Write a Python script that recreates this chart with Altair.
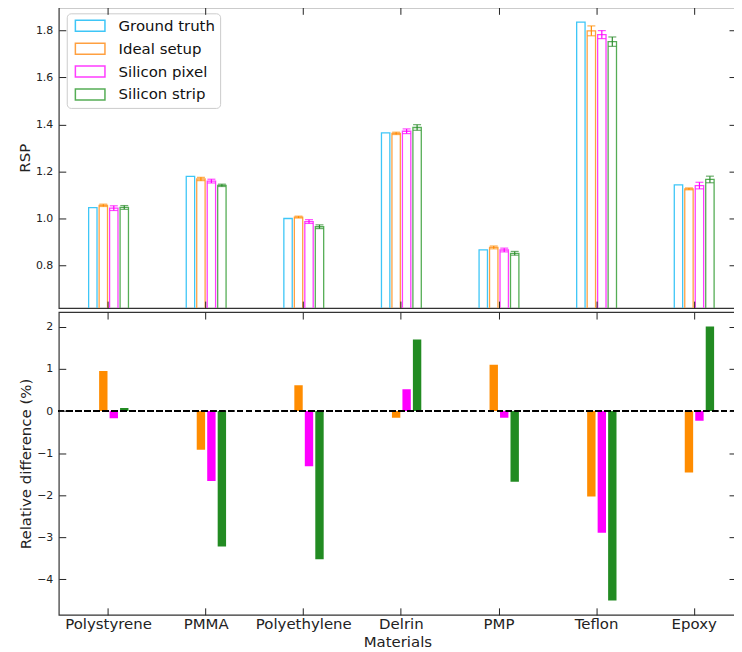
import altair as alt
import pandas as pd

materials = ["Polystyrene", "PMMA", "Polyethylene", "Delrin", "PMP", "Teflon", "Epoxy"]
series = ["Ground truth", "Ideal setup", "Silicon pixel", "Silicon strip"]

gt_rsp = [1.046, 1.179, 1.000, 1.364, 0.867, 1.835, 1.143]
ideal_rsp = [1.056, 1.168, 1.006, 1.362, 0.877, 1.798, 1.126]
pixel_rsp = [1.044, 1.159, 0.987, 1.371, 0.866, 1.782, 1.140]
strip_rsp = [1.047, 1.141, 0.965, 1.387, 0.852, 1.752, 1.166]
ideal_err = [0.005, 0.007, 0.004, 0.005, 0.006, 0.021, 0.004]
pixel_err = [0.010, 0.008, 0.008, 0.010, 0.008, 0.017, 0.014]
strip_err = [0.008, 0.005, 0.008, 0.012, 0.008, 0.020, 0.014]

rel_ideal = [0.95, -0.92, 0.61, -0.16, 1.10, -2.03, -1.46]
rel_pixel = [-0.17, -1.66, -1.31, 0.52, -0.16, -2.89, -0.23]
rel_strip = [0.07, -3.22, -3.52, 1.70, -1.68, -4.50, 2.01]

top_colors = ["#3ec6f7", "#ffa040", "#ff3dff", "#55ad55"]
err_colors = ["#ff8c00", "#ff00ff", "#2e8b2e"]
bot_colors = ["#ff8c00", "#ff00ff", "#228b22"]

FONT = "DejaVu Sans"
W = 680

rows = []
for i, m in enumerate(materials):
    for s, vals, errs in [(series[0], gt_rsp, None), (series[1], ideal_rsp, ideal_err),
                          (series[2], pixel_rsp, pixel_err), (series[3], strip_rsp, strip_err)]:
        e = errs[i] if errs is not None else 0.0
        rows.append({"Material": m, "Series": s, "RSP": vals[i],
                     "lo": vals[i] - e, "hi": vals[i] + e, "has_err": errs is not None})
top_df = pd.DataFrame(rows)
err_df = top_df[top_df["has_err"]].drop(columns=["has_err"])
top_df = top_df.drop(columns=["has_err"])

brows = []
for i, m in enumerate(materials):
    for s, vals in [(series[1], rel_ideal), (series[2], rel_pixel), (series[3], rel_strip)]:
        brows.append({"Material": m, "Series": s, "Rel": vals[i]})
bot_df = pd.DataFrame(brows)


def x_scale():
    return alt.Scale(domain=materials, paddingInner=0.592, paddingOuter=0.265, align=0.577)


def off_scale():
    return alt.Scale(domain=series, paddingInner=0.2, paddingOuter=0)


def inner(orient, **kw):
    return alt.Axis(orient=orient, offset=-7, tickSize=7, domain=False, grid=False,
                    tickColor="#222", tickWidth=1, zindex=1, minExtent=0, **kw)


top_y_scale = alt.Scale(domain=[0.619, 1.898], nice=False, zero=False)
bot_y_scale = alt.Scale(domain=[-4.84, 2.35], nice=False, zero=False)

xo = alt.XOffset("Series:N", sort=series, scale=off_scale())

top_bars = alt.Chart(top_df).mark_bar(filled=False, strokeWidth=1.3, clip=True).encode(
    x=alt.X("Material:N", sort=materials, scale=x_scale(),
            axis=inner("bottom", labels=False, title=None)),
    xOffset=xo,
    y=alt.Y("RSP:Q", scale=top_y_scale,
            axis=inner("left", values=[0.8, 1.0, 1.2, 1.4, 1.6, 1.8], format=".1f",
                       labelFontSize=11, labelPadding=6, title="RSP", titleFontSize=15,
                       titlePadding=3)),
    y2=alt.Y2Datum(0),
    stroke=alt.Stroke("Series:N", sort=series,
                      scale=alt.Scale(domain=series, range=top_colors),
                      legend=alt.Legend(title=None, orient="none", legendX=8, legendY=6,
                                        fillColor="white", strokeColor="#cccccc",
                                        cornerRadius=4, padding=5, labelFontSize=15,
                                        labelFont=FONT, labelColor="#111",
                                        symbolType="M-2.7,-1H2.7V1H-2.7Z", symbolSize=121,
                                        symbolStrokeWidth=1.5, symbolFillColor="white",
                                        symbolOffset=11, labelOffset=21, rowPadding=6)),
)

err_color = alt.Color("Series:N", scale=alt.Scale(domain=series[1:], range=err_colors), legend=None)

top_rule = alt.Chart(err_df).mark_rule(strokeWidth=1.2).encode(
    x=alt.X("Material:N", sort=materials, scale=x_scale(), axis=None),
    xOffset=xo,
    y=alt.Y("lo:Q", scale=top_y_scale, axis=None),
    y2="hi:Q",
    color=err_color,
)
top_cap_lo = alt.Chart(err_df).mark_tick(size=8, thickness=1.2).encode(
    x=alt.X("Material:N", sort=materials, scale=x_scale(), axis=None),
    xOffset=xo,
    y=alt.Y("lo:Q", scale=top_y_scale, axis=None),
    color=err_color,
)
top_cap_hi = alt.Chart(err_df).mark_tick(size=8, thickness=1.2).encode(
    x=alt.X("Material:N", sort=materials, scale=x_scale(), axis=None),
    xOffset=xo,
    y=alt.Y("hi:Q", scale=top_y_scale, axis=None),
    color=err_color,
)
top_ghost = alt.Chart(top_df).mark_point(opacity=0).encode(
    x=alt.X("Material:N", sort=materials, scale=x_scale(),
            axis=inner("top", labels=False, title=None)),
    y=alt.Y("RSP:Q", scale=top_y_scale,
            axis=inner("right", labels=False, title=None,
                       values=[0.8, 1.0, 1.2, 1.4, 1.6, 1.8])),
)

top = alt.layer(top_bars, top_rule, top_cap_lo, top_cap_hi, top_ghost).resolve_axis(
    x="independent", y="independent").properties(width=W, height=302)

bot_bars = alt.Chart(bot_df).mark_bar(clip=True).encode(
    x=alt.X("Material:N", sort=materials, scale=x_scale(),
            axis=inner("bottom", labels=True, labelAngle=0, labelFontSize=15, labelPadding=2,
                       title="Materials", titleFontSize=15, titlePadding=3)),
    xOffset=xo,
    y=alt.Y("Rel:Q", scale=bot_y_scale,
            axis=inner("left", values=[-4, -3, -2, -1, 0, 1, 2], format="d",
                       labelFontSize=11, labelPadding=6, title="Relative difference (%)",
                       titleFontSize=15, titlePadding=3)),
    y2=alt.Y2Datum(0),
    fill=alt.Fill("Series:N", scale=alt.Scale(domain=series[1:], range=bot_colors), legend=None),
)
zero_line = alt.Chart(bot_df).mark_rule(color="black", strokeWidth=1.5, strokeDash=[6, 3]).encode(
    y=alt.YDatum(0, scale=bot_y_scale, axis=None),
)
bot_ghost = alt.Chart(bot_df).mark_point(opacity=0).encode(
    x=alt.X("Material:N", sort=materials, scale=x_scale(),
            axis=inner("top", labels=False, title=None)),
    y=alt.Y("Rel:Q", scale=bot_y_scale,
            axis=inner("right", labels=False, title=None, values=[-4, -3, -2, -1, 0, 1, 2])),
)
bottom = alt.layer(bot_bars, zero_line, bot_ghost).resolve_axis(
    x="independent", y="independent").properties(width=W, height=304)

chart = alt.vconcat(top, bottom, spacing=0).resolve_scale(
    x="independent", y="independent", stroke="independent", fill="independent",
    color="independent"
).properties(
    padding={"left": 8, "top": -4, "right": -4, "bottom": 0}
).configure(font=FONT).configure_view(
    stroke="#333", strokeWidth=1.2
).configure_axis(
    labelFont=FONT, titleFont=FONT, labelColor="#222", titleColor="#222",
    titleFontWeight="normal"
)

chart.save("out.html", embed_options={"renderer": "svg", "actions": False})
